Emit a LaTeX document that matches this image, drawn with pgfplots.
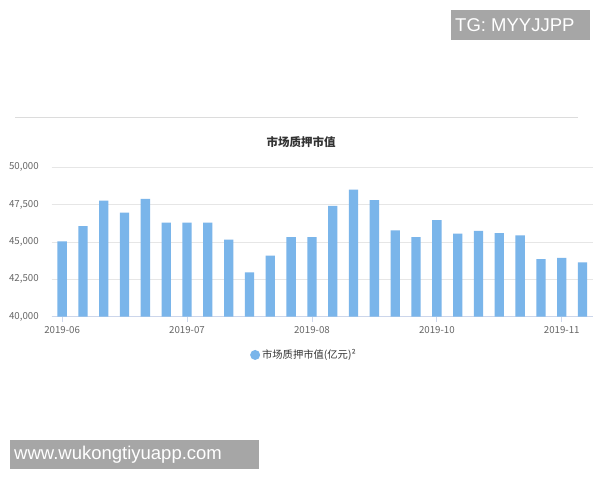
\documentclass[border=0pt]{standalone}
\usepackage{fontspec}
\setmainfont{Noto Sans CJK SC}
\newfontfamily\arial{Liberation Sans}
\usepackage{pgfplots}
\pgfplotsset{compat=1.18}
\definecolor{barblue}{HTML}{7AB5EA}
\definecolor{gridc}{HTML}{E6E6E6}
\definecolor{axisc}{HTML}{CCD6EB}
\definecolor{labc}{HTML}{666666}
\definecolor{titc}{HTML}{333333}
\definecolor{wmgray}{HTML}{A6A6A6}
\pgfplotstableread{
x y
0 45045
1 46070
2 47770
3 46960
4 47880
5 46290
6 46290
7 46290
8 45160
9 42970
10 44080
11 45330
12 45330
13 47410
14 48500
15 47810
16 45780
17 45330
18 46470
19 45560
20 45740
21 45600
22 45450
23 43860
24 43930
25 43640
}\datatable
\begin{document}
\begin{tikzpicture}[x=1pt,y=1pt]
\path[fill=white] (0,0) rectangle (600,480);
\draw[color=gridc!90!gray, line width=1pt] (15,362) -- (578,362);
\node[font=\bfseries\fontsize{11.5}{13}\selectfont, text=titc] at (301,338) {市场质押市值};
\begin{axis}[
  at={(51.7pt,163.3pt)}, anchor=south west,
  scale only axis, width=541.3pt, height=149.4pt,
  xmin=-0.5, xmax=25.5, ymin=40000, ymax=50000,
  ytick={40000,42500,45000,47500,50000},
  scaled y ticks=false,
  /pgf/number format/.cd, fixed, 1000 sep={,}, assume math mode=true,
  /pgfplots/.cd,
  xtick={0,6,12,18,24},
  xticklabels={2019-06,2019-07,2019-08,2019-10,2019-11},
  axis x line*=bottom, axis y line*=left,
  y axis line style={draw=none},
  x axis line style={draw=axisc, line width=0.8pt},
  ytick style={draw=none},
  xtick style={draw=axisc, line width=0.8pt},
  tick align=outside, major tick length=5pt,
  ymajorgrids, major grid style={draw=gridc, line width=0.8pt},
  ticklabel style={font=\fontsize{9.7}{11}\selectfont, text=labc},
  yticklabel style={xshift=-4.5pt},
  xticklabel style={yshift=-1pt},
  legend style={at={(0.466,-0.256)}, anchor=center, draw=none, fill=none,
    font=\fontsize{10.3}{12}\selectfont, text=titc, legend cell align=left},
  clip=false,
]
\addplot[ybar, bar width=9.3pt, fill=barblue, draw=none,
  legend image code/.code={\fill[barblue] (-1.5pt,0pt) circle (5pt);}]
  table[x=x, y=y] {\datatable};
\addlegendentry{市场质押市值(亿元)²}
\end{axis}
\fill[wmgray] (451,440) rectangle (590,470);
\node[anchor=west, font=\arial\fontsize{18.5}{20}\selectfont, text=white, inner sep=0pt] at (455,455) {TG: MYYJJPP};
\fill[wmgray] (10,11) rectangle (259,40);
\node[anchor=west, font=\arial\fontsize{18.5}{20}\selectfont, text=white, inner sep=0pt] at (14,25.5) {www.wukongtiyuapp.com};
\end{tikzpicture}
\end{document}
